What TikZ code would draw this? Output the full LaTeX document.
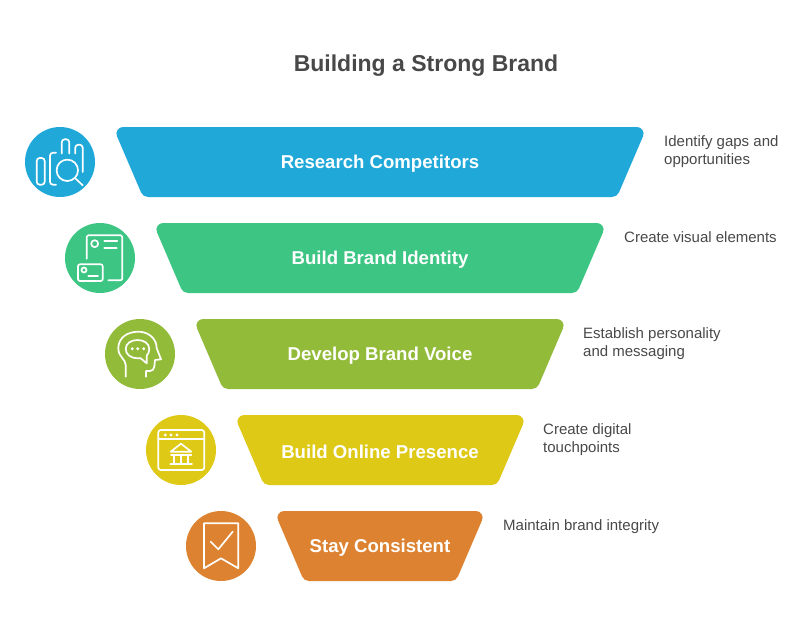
\documentclass[tikz,border=0pt]{standalone}
\usepackage{fontspec}
\setmainfont{Liberation Sans}
\definecolor{cblue}{HTML}{1FA8D8}
\definecolor{cgreen}{HTML}{3CC583}
\definecolor{colive}{HTML}{93BB3A}
\definecolor{cyellow}{HTML}{DEC916}
\definecolor{corange}{HTML}{DD8231}
\definecolor{ctext}{HTML}{484848}
\tikzset{
  band/.style={fill=#1,draw=none},
  disc/.style={fill=#1,draw=none},
  glyph/.style={draw=white,line width=1.7pt,line cap=round,line join=round,fill=none},
  bandtext/.style={text=white,font=\fontsize{18.6}{22}\selectfont\bfseries,anchor=center,inner sep=0pt},
  note/.style={text=ctext,font=\fontsize{15}{18}\selectfont,anchor=north west,align=left,inner sep=0pt},
  heading/.style={text=ctext,font=\fontsize{23}{28}\selectfont\bfseries,anchor=center,inner sep=0pt}
}
% #1 colour, #2 left apex x, #3 right apex x, #4 top y
\newcommand{\funnelband}[4]{%
  \fill[band=#1]
    ({#2+10},#4) -- ({#3-10},#4)
    .. controls ({#3-5.3},#4) and ({#3-2.09},{#4+4.87}) .. ({#3-3.94},{#4+9.19})
    -- ({#3-28.03},{#4+65.4})
    .. controls ({#3-29.22},{#4+68.18}) and ({#3-31.97},{#4+70}) .. ({#3-35},{#4+70})
    -- ({#2+35},{#4+70})
    .. controls ({#2+31.97},{#4+70}) and ({#2+29.22},{#4+68.18}) .. ({#2+28.03},{#4+65.4})
    -- ({#2+3.94},{#4+9.19})
    .. controls ({#2+2.09},{#4+4.87}) and ({#2+5.3},#4) .. ({#2+10},#4) -- cycle;
}
\begin{document}
\begin{tikzpicture}[x=1pt,y=-1pt]
\useasboundingbox (0,0) rectangle (809,630);
\node[heading] (title) at (426,65.5) {Building a Strong Brand};
% bands
\funnelband{cblue}{113}{647}{127}
\funnelband{cgreen}{153}{607}{223}
\funnelband{colive}{193}{567}{319}
\funnelband{cyellow}{234}{527}{415}
\funnelband{corange}{274}{486}{511}
\node[bandtext] (b1) at (380,163.5) {Research Competitors};
\node[bandtext] (b2) at (380,259.5) {Build Brand Identity};
\node[bandtext] (b3) at (380,355.5) {Develop Brand Voice};
\node[bandtext] (b4) at (380,451.5) {Build Online Presence};
\node[bandtext] (b5) at (380,547.5) {Stay Consistent};
% notes
\node[note] (n1) at (664,135) {Identify gaps and\\opportunities};
\node[note] (n2) at (624,231) {Create visual elements};
\node[note] (n3) at (583,327) {Establish personality\\and messaging};
\node[note] (n4) at (543,423) {Create digital\\touchpoints};
\node[note] (n5) at (503,519) {Maintain brand integrity};
% discs
\fill[disc=cblue] (60,162) circle (35);
\fill[disc=cgreen] (100,258) circle (35);
\fill[disc=colive] (140,354) circle (35);
\fill[disc=cyellow] (181,450) circle (35);
\fill[disc=corange] (221,546) circle (35);
% icon 1
\begin{scope}[shift={(60,162)},glyph]
\draw[rounded corners=3pt] (-23.3,-4) rectangle (-15.3,22.7);
\draw[rounded corners=3pt] (-4,-9.3) -- (-10,-9.3) -- (-10,22.7) -- (-4,22.7);
\draw[rounded corners=3pt] (1.7,-8.5) -- (1.7,-22.7) -- (9.3,-22.7) -- (9.3,-8.5);
\draw[rounded corners=3pt] (15.3,-8.5) -- (15.3,-17.3) -- (22.7,-17.3) -- (22.7,10);
\draw (7.3,8.3) circle (10.7);
\draw (15.7,16.7) -- (22.7,23.3);
\end{scope}
% icon 2
\begin{scope}[shift={(100,258)},glyph]
\draw[rounded corners=1.5pt] (-13.3,0.7) -- (-13.3,-22.7) -- (22.3,-22.7) -- (22.3,22.3) -- (8.3,22.3);
\draw (-5.3,-14.3) circle (3.5);
\draw (4.3,-16.7) -- (17.3,-16.7);
\draw (4.3,-10) -- (16.7,-10);
\draw[rounded corners=2pt] (-22,6.3) rectangle (2.7,23);
\draw (-16,12) circle (2.5);
\draw (-11.7,17.7) -- (-2,17.7);
\end{scope}
% icon 3
\begin{scope}[shift={(140,354)},glyph]
\draw (-14.3,22.7) -- (-14.3,11) .. controls (-14.3,5) and (-21.7,3) .. (-21.7,-5.7)
  .. controls (-21.7,-16) and (-13,-22.3) .. (-1.7,-22.3)
  .. controls (9,-22.3) and (16.7,-15) .. (16.7,-5.7)
  -- (21,5.3) -- (15,6) -- (14.3,12.7) .. controls (14,15) and (12.5,17) .. (10,17) -- (6,17) -- (6,22.7);
\draw (-2.5,4.3) .. controls (-9,4.3) and (-14.3,0.5) .. (-14.3,-5)
  .. controls (-14.3,-10.5) and (-9,-14) .. (-2.5,-14)
  .. controls (4,-14) and (9.3,-10.5) .. (9.3,-5)
  .. controls (9.3,-2) and (8,0.5) .. (6.7,1.5)
  -- (6.7,9.3) -- (0.5,4.1) -- cycle;
\fill[white,draw=none] (-7.7,-5.3) circle (1.6) (-2.3,-5.3) circle (1.6) (3.7,-5.3) circle (1.6);
\end{scope}
% icon 4
\begin{scope}[shift={(181,450)},glyph]
\draw[rounded corners=2.5pt] (-22.7,-20) rectangle (23.3,20);
\draw (-22.7,-10.7) -- (23.3,-10.7);
\fill[white,draw=none] (-15.7,-15) circle (1.6) (-10,-15) circle (1.6) (-4,-15) circle (1.6);
\draw (0,-6.3) -- (10.3,1.7) -- (-10.3,1.7) -- cycle;
\draw (-10,5) -- (10.3,5);
\draw (-10.7,14) -- (11,14);
\draw (-6.7,5) -- (-6.7,14) (0,5) -- (0,14) (6.7,5) -- (6.7,14);
\end{scope}
% icon 5
\begin{scope}[shift={(221,546)},glyph]
\draw (-17,-22.7) -- (17.3,-22.7) -- (17.3,22.3) -- (0,12.3) -- (-17,22.3) -- cycle;
\draw (-10.3,-4.3) -- (-2.7,3.3) -- (11.7,-14.3);
\end{scope}
\end{tikzpicture}
\end{document}
